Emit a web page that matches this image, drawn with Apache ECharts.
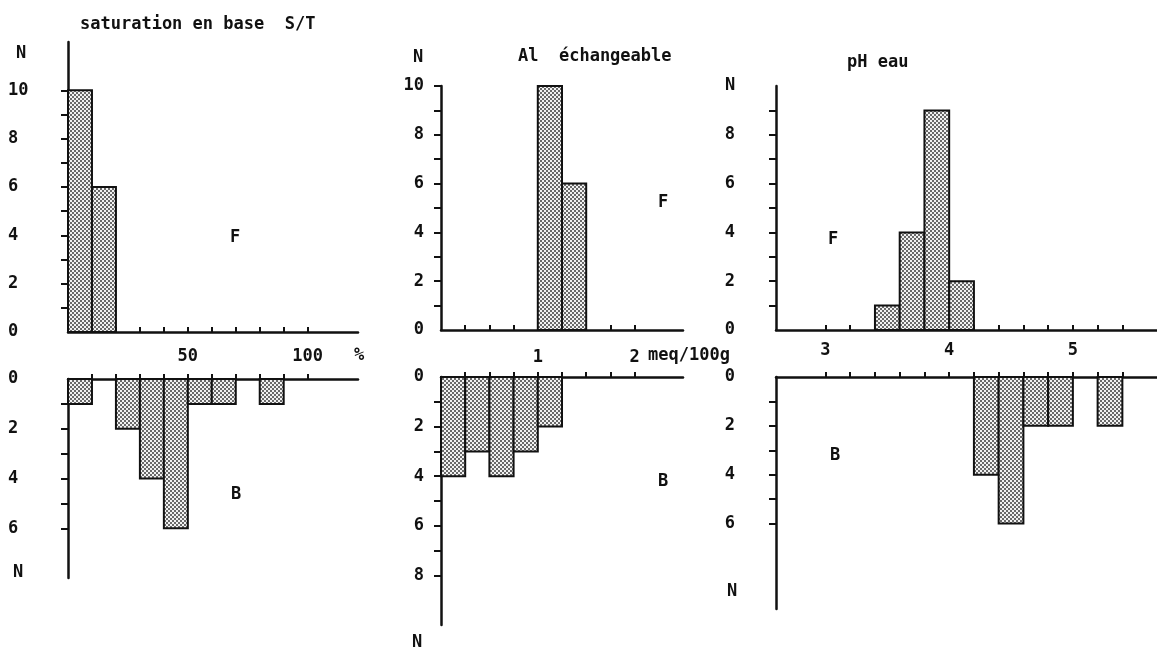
<!DOCTYPE html>
<html>
<head>
<meta charset="utf-8">
<script src="https://cdn.jsdelivr.net/npm/echarts@6/dist/echarts.min.js"></script>
<style>
html,body{margin:0;padding:0;background:#fff;}
#c{width:1157px;height:653px;}
</style>
</head>
<body>
<div id="c"></div>
<script>
// ---------- data ----------
// saturation en base S/T (%), bin width 10
const satWidth = 10;
const satBinsF = [0, 10];
const satCountsF = [10, 6];
const satBinsB = [0, 20, 30, 40, 50, 60, 80];
const satCountsB = [1, 2, 4, 6, 1, 1, 1];
const satTicks = [10, 20, 30, 40, 50, 60, 70, 80, 90, 100];
const satLabels = [50, 100];

// Al échangeable (meq/100g), bin width 0.25
const alWidth = 0.25;
const alBinsF = [1.0, 1.25];
const alCountsF = [10, 6];
const alBinsB = [0, 0.25, 0.5, 0.75, 1.0];
const alCountsB = [4, 3, 4, 3, 2];
const alTicks = [0.25, 0.5, 0.75, 1, 1.25, 1.5, 1.75, 2];
const alLabels = [1, 2];

// pH eau, bin width 0.2
const phWidth = 0.2;
const phBinsF = [3.4, 3.6, 3.8, 4.0];
const phCountsF = [1, 4, 9, 2];
const phBinsB = [4.2, 4.4, 4.6, 4.8, 5.2];
const phCountsB = [4, 6, 2, 2, 2];
const phTicks = [3, 3.2, 3.4, 3.6, 3.8, 4, 4.2, 4.4, 4.6, 4.8, 5, 5.2, 5.4];
const phLabels = [3, 4, 5];

// y ticks / labels
const yTicks10 = [1, 2, 3, 4, 5, 6, 7, 8, 9, 10];
const yTicks9 = [1, 2, 3, 4, 5, 6, 7, 8, 9];
const yTicks8 = [1, 2, 3, 4, 5, 6, 7, 8];
const yTicks6 = [1, 2, 3, 4, 5, 6];
const yLabels10 = [0, 2, 4, 6, 8, 10];
const yLabels8 = [0, 2, 4, 6, 8];
const yLabels6 = [0, 2, 4, 6];

// ---------- style helpers ----------
const FONT = '"DejaVu Sans Mono", "Liberation Mono", monospace';
const FSIZE = 17;
const INK = '#111';

const pc = document.createElement('canvas');
pc.width = 4; pc.height = 4;
const pctx = pc.getContext('2d');
pctx.fillStyle = '#f2f2f2'; pctx.fillRect(0, 0, 4, 4);
pctx.fillStyle = '#6a6a6a';
pctx.fillRect(0, 0, 2, 2);
pctx.fillRect(2, 2, 2, 2);
const stipple = { image: pc, repeat: 'repeat' };

function hist(bins, counts, w) {
  return bins.map((b, i) => [b, b + w, counts[i]]);
}

function renderHist(params, api) {
  const x0 = api.value(0), x1 = api.value(1), v = api.value(2);
  const p0 = api.coord([x0, 0]);
  const p1 = api.coord([x1, v]);
  return {
    type: 'rect',
    shape: {
      x: Math.min(p0[0], p1[0]), y: Math.min(p0[1], p1[1]),
      width: Math.abs(p1[0] - p0[0]), height: Math.abs(p1[1] - p0[1])
    },
    style: { fill: stipple, stroke: INK, lineWidth: 2 }
  };
}

const lineStyle = { color: INK, width: 2.5 };
const labelStyle = { color: INK, fontFamily: FONT, fontSize: FSIZE, fontWeight: 'bold' };

function xAx(grid, min, max, ticks, labels, pos, labelMargin) {
  return {
    type: 'value', gridIndex: grid, min: min, max: max, position: pos,
    axisLine: { show: true, onZero: false, lineStyle: lineStyle },
    axisTick: { show: true, inside: pos === 'bottom', length: 5, customValues: ticks, lineStyle: { color: INK, width: 2 } },
    axisLabel: labels ? Object.assign({ show: true, margin: labelMargin, customValues: labels,
      formatter: v => String(Math.round(v * 100) / 100) }, labelStyle) : { show: false },
    splitLine: { show: false }
  };
}

function yAx(grid, max, inverse, ticks, labels, margin, align) {
  return {
    type: 'value', gridIndex: grid, min: 0, max: max, inverse: inverse,
    axisLine: { show: true, onZero: false, lineStyle: lineStyle },
    axisTick: { show: true, inside: false, length: 7, customValues: ticks, lineStyle: { color: INK, width: 2 } },
    axisLabel: labels ? Object.assign({ show: true, margin: margin, align: align, customValues: labels,
      padding: [6, 0, 0, 0], formatter: v => String(v) }, labelStyle) : { show: false },
    splitLine: { show: false }
  };
}

function txt(x, y, s, align) {
  return {
    type: 'text', x: x, y: y,
    style: { text: s, font: 'bold ' + FSIZE + 'px ' + FONT, fill: INK, align: align || 'center', verticalAlign: 'middle' }
  };
}

const option = {
  animation: false,
  backgroundColor: '#fff',
  grid: [
    { left: 68, top: 42, width: 290, height: 290 },
    { left: 68, top: 379, width: 290, height: 199 },
    { left: 441, top: 86, width: 242, height: 244 },
    { left: 441, top: 377, width: 242, height: 248 },
    { left: 776, top: 86, width: 381, height: 244 },
    { left: 776, top: 377, width: 381, height: 232 }
  ],
  xAxis: [
    xAx(0, 0, 121, satTicks, satLabels, 'bottom', 16),
    xAx(1, 0, 121, satTicks, null, 'top'),
    xAx(2, 0, 2.5, alTicks, alLabels, 'bottom', 19),
    xAx(3, 0, 2.5, alTicks, null, 'top'),
    xAx(4, 2.6, 5.68, phTicks, phLabels, 'bottom', 12),
    xAx(5, 2.6, 5.68, phTicks, null, 'top')
  ],
  yAxis: [
    yAx(0, 12, false, yTicks10, yLabels10, 60, 'left'),
    yAx(1, 8, true, yTicks6, yLabels6, 60, 'left'),
    yAx(2, 10, false, yTicks10, yLabels10, 17, 'right'),
    yAx(3, 10, true, yTicks8, yLabels8, 17, 'right'),
    yAx(4, 10, false, yTicks9, yLabels8, 41, 'right'),
    yAx(5, 9.5, true, yTicks6, yLabels6, 41, 'right')
  ],
  series: [
    { type: 'custom', xAxisIndex: 0, yAxisIndex: 0, renderItem: renderHist, data: hist(satBinsF, satCountsF, satWidth) },
    { type: 'custom', xAxisIndex: 1, yAxisIndex: 1, renderItem: renderHist, data: hist(satBinsB, satCountsB, satWidth) },
    { type: 'custom', xAxisIndex: 2, yAxisIndex: 2, renderItem: renderHist, data: hist(alBinsF, alCountsF, alWidth) },
    { type: 'custom', xAxisIndex: 3, yAxisIndex: 3, renderItem: renderHist, data: hist(alBinsB, alCountsB, alWidth) },
    { type: 'custom', xAxisIndex: 4, yAxisIndex: 4, renderItem: renderHist, data: hist(phBinsF, phCountsF, phWidth) },
    { type: 'custom', xAxisIndex: 5, yAxisIndex: 5, renderItem: renderHist, data: hist(phBinsB, phCountsB, phWidth) }
  ],
  graphic: [
    txt(80, 25, 'saturation en base  S/T', 'left'),
    txt(518, 57, 'Al  échangeable', 'left'),
    txt(847, 63, 'pH eau', 'left'),
    txt(21, 54, 'N'), txt(18, 573, 'N'),
    txt(418, 58, 'N'), txt(417, 643, 'N'),
    txt(730, 86, 'N'), txt(732, 592, 'N'),
    txt(235, 238, 'F'), txt(236, 495, 'B'),
    txt(663, 203, 'F'), txt(663, 482, 'B'),
    txt(833, 240, 'F'), txt(835, 456, 'B'),
    txt(359, 356, '%'),
    txt(648, 356, 'meq/100g', 'left')
  ]
};

echarts.init(document.getElementById('c'), null, { renderer: 'canvas' }).setOption(option);
</script>
</body>
</html>
